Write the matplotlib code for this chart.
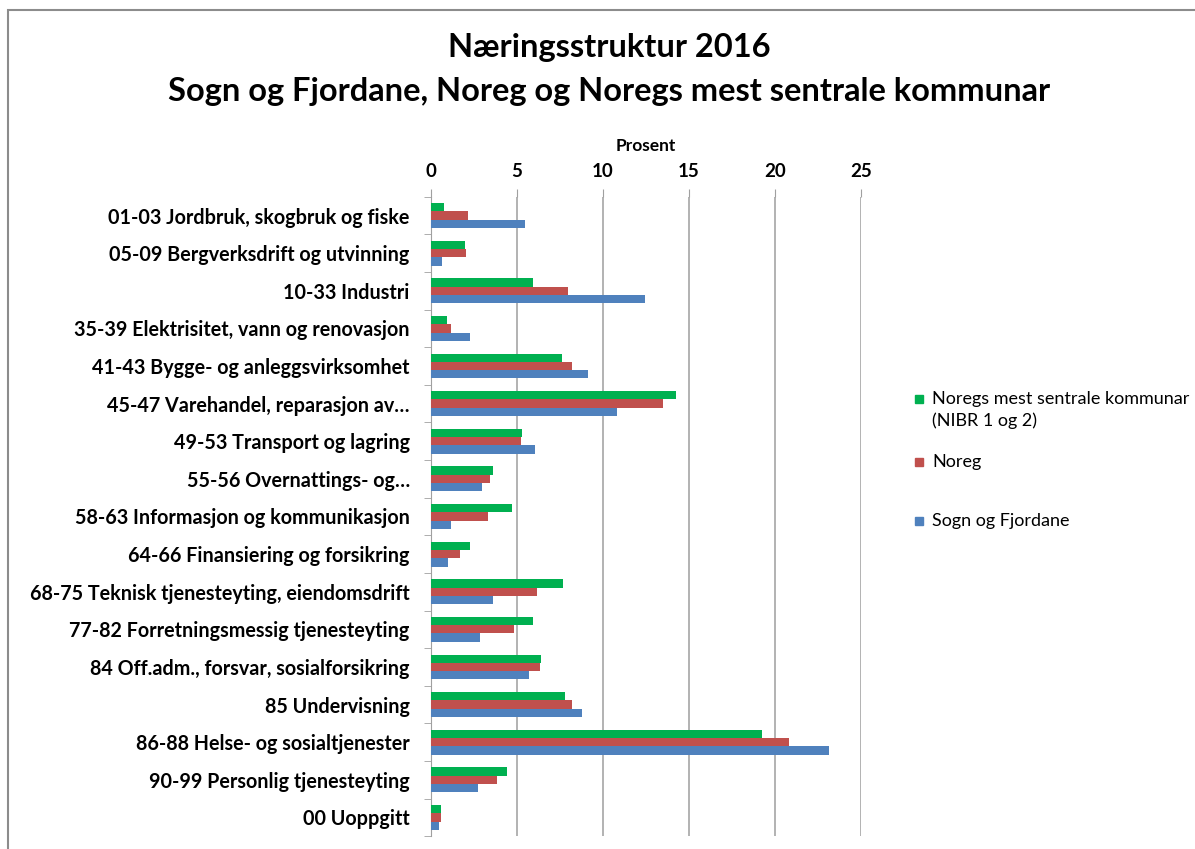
import matplotlib
matplotlib.use("Agg")
import matplotlib.pyplot as plt
import numpy as np
from matplotlib.patches import Rectangle

plt.rcParams['font.family'] = ['Lato', 'DejaVu Sans']

# Data (prosent)
kategoriar = [
    "01-03 Jordbruk, skogbruk og fiske",
    "05-09 Bergverksdrift og utvinning",
    "10-33 Industri",
    "35-39 Elektrisitet, vann og renovasjon",
    "41-43 Bygge- og anleggsvirksomhet",
    "45-47 Varehandel, reparasjon av…",
    "49-53 Transport og lagring",
    "55-56 Overnattings- og…",
    "58-63 Informasjon og kommunikasjon",
    "64-66 Finansiering og forsikring",
    "68-75 Teknisk tjenesteyting, eiendomsdrift",
    "77-82 Forretningsmessig tjenesteyting",
    "84 Off.adm., forsvar, sosialforsikring",
    "85 Undervisning",
    "86-88 Helse- og sosialtjenester",
    "90-99 Personlig tjenesteyting",
    "00 Uoppgitt",
]
sentrale = [0.78, 1.98, 5.95, 0.93, 7.64, 14.24, 5.29, 3.6, 4.71, 2.31,
            7.69, 5.97, 6.4, 7.81, 19.26, 4.44, 0.62]
noreg = [2.19, 2.03, 7.97, 1.16, 8.2, 13.49, 5.25, 3.45, 3.35, 1.71,
         6.18, 4.83, 6.34, 8.2, 20.83, 3.84, 0.62]
sogn = [5.47, 0.66, 12.44, 2.31, 9.17, 10.85, 6.07, 3.0, 1.2, 0.99,
        3.6, 2.89, 5.74, 8.8, 23.18, 2.73, 0.5]
xticks = [0, 5, 10, 15, 20, 25]

serienamn = ["Noregs mest sentrale kommunar\n(NIBR 1 og 2)", "Noreg", "Sogn og Fjordane"]
fargar = ["#00B050", "#C0504D", "#4F81BD"]

W, H = 1195, 849
fig = plt.figure(figsize=(W / 100, H / 100), dpi=100)
ax = fig.add_axes([0.3604, 0.015, 0.3598, 0.7533])

y = np.arange(len(kategoriar))
h = 0.22
ax.barh(y - h, sentrale, height=h, color=fargar[0], zorder=3)
ax.barh(y, noreg, height=h, color=fargar[1], zorder=3)
ax.barh(y + h, sogn, height=h, color=fargar[2], zorder=3)

ax.set_ylim(len(kategoriar) - 0.5, -0.5)
ax.set_xlim(0, 25)
ax.set_xticks(xticks)
ax.xaxis.tick_top()
ax.xaxis.set_label_position("top")
ax.set_xlabel("Prosent", fontsize=12.5, fontweight="bold", labelpad=9)
ax.tick_params(axis="x", length=6, color="#A0A0A0", labelsize=13.5, pad=6)
for t in ax.get_xticklabels():
    t.set_fontweight("bold")

ax.set_yticks(y)
ax.set_yticklabels(kategoriar, fontsize=14.2, fontweight="bold")
ax.set_yticks(np.arange(len(kategoriar) + 1) - 0.5, minor=True)
ax.tick_params(axis="y", which="major", length=0, pad=15)
ax.tick_params(axis="y", which="minor", length=5, color="#A0A0A0")

ax.grid(axis="x", color="#A6A6A6", linewidth=1.2, zorder=0)
for s in ["top", "right", "bottom"]:
    ax.spines[s].set_visible(False)
ax.spines["left"].set_color("#A0A0A0")

fig.text(0.51, 1 - 47 / H, "Næringsstruktur 2016", ha="center", va="center",
         fontsize=23.5, fontweight="bold")
fig.text(0.51, 1 - 92 / H, "Sogn og Fjordane, Noreg og Noregs mest sentrale kommunar",
         ha="center", va="center", fontsize=23.5, fontweight="bold")

# forklaring (legend) plassert som i originalen
leg_y = [399, 462, 521]
for namn, farge, yy in zip(serienamn, fargar, leg_y):
    fig.add_artist(Rectangle((915 / W, 1 - (yy + 4) / H), 8 / W, 8 / H,
                             transform=fig.transFigure, color=farge))
    linjer = namn.split("\n")
    for i, linje in enumerate(linjer):
        fig.text(932 / W, 1 - (yy + i * 22) / H, linje, ha="left", va="center",
                 fontsize=13)

fig.patches.append(Rectangle((8 / W, -0.05), 1.1, 0.05 + 1 - 10 / H,
                             transform=fig.transFigure, fill=False,
                             edgecolor="#8C8C8C", linewidth=1.5))

fig.savefig("out.png", dpi=100)
